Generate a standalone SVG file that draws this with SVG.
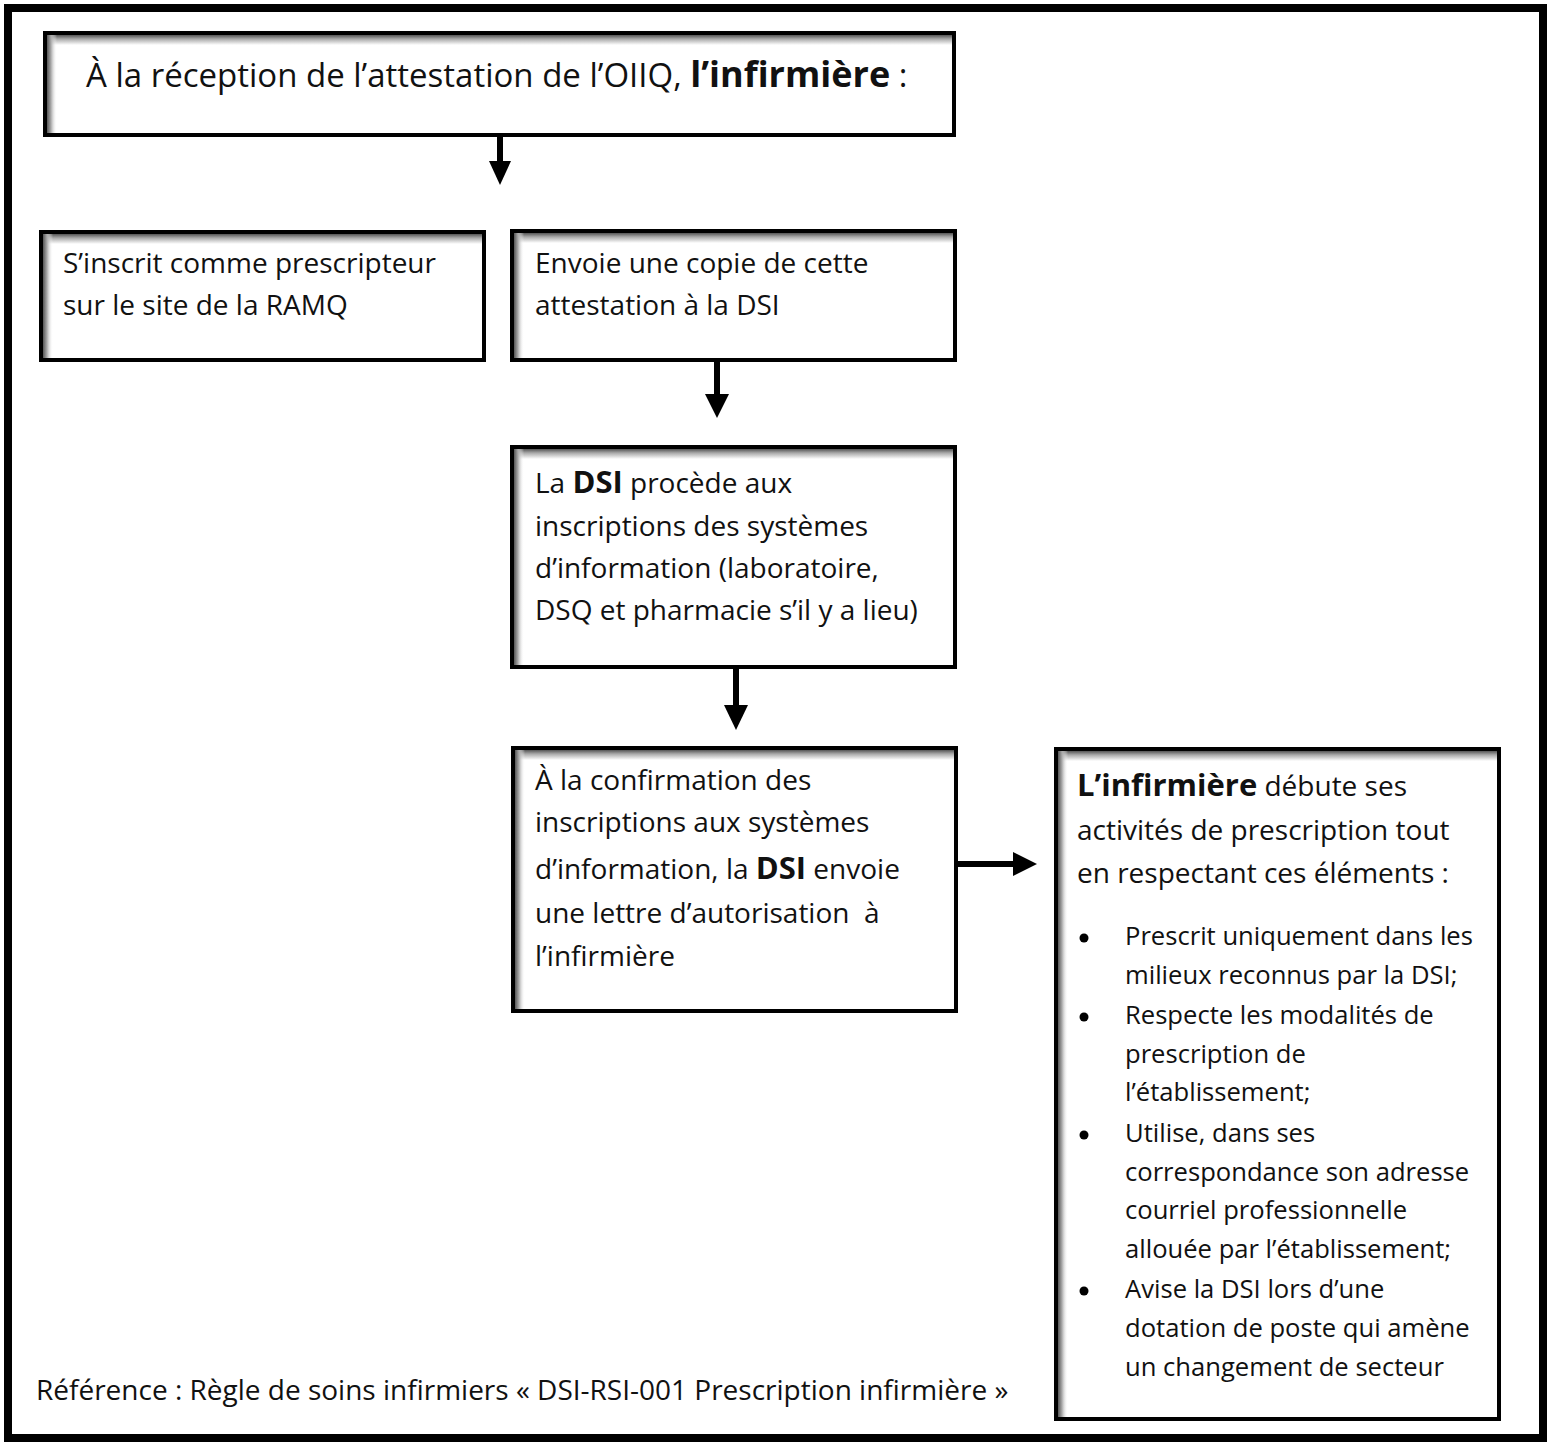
<svg xmlns="http://www.w3.org/2000/svg" width="1551" height="1443" viewBox="0 0 1551 1443">
<style>
.box{fill:#fff;stroke:#000;stroke-width:4}
.sh-t{fill:url(#gt)}
.sh-l{fill:url(#gl)}
.t{font-family:"Open Sans","Liberation Sans",sans-serif;font-size:28px;fill:#111}
.s{font-size:25.6px}
.b{font-weight:bold}
.conn{stroke:#000;stroke-width:6;fill:none}
.head{fill:#000}
</style>
<defs>
<linearGradient id="gt" x1="0" y1="0" x2="0" y2="1"><stop offset="0" stop-color="#555"/><stop offset="0.4" stop-color="#aaa"/><stop offset="1" stop-color="#fff"/></linearGradient>
<linearGradient id="gl" x1="0" y1="0" x2="1" y2="0"><stop offset="0" stop-color="#555"/><stop offset="0.4" stop-color="#aaa"/><stop offset="1" stop-color="#fff" stop-opacity="0"/></linearGradient>
</defs>
<rect x="0" y="0" width="1551" height="1443" fill="#fff"/>
<rect x="8" y="8" width="1535" height="1430" fill="none" stroke="#000" stroke-width="8"/>

<g id="n-top">
<rect class="box" x="45" y="33" width="909" height="102"/>
<rect class="sh-t" x="47" y="35" width="905" height="10"/>
<rect class="sh-l" x="47" y="35" width="10" height="98"/>
<text class="t" x="86" y="87" style="font-size:33px">À la réception de l’attestation de l’OIIQ, <tspan class="b" style="font-size:36px">l’infirmière</tspan> :</text>
</g>

<g id="n-ramq">
<rect class="box" x="41" y="232" width="443" height="128"/>
<rect class="sh-t" x="43" y="234" width="439" height="10"/>
<rect class="sh-l" x="43" y="234" width="10" height="124"/>
<text class="t" x="63" y="273">S’inscrit comme prescripteur</text>
<text class="t" x="63" y="315">sur le site de la RAMQ</text>
</g>

<g id="n-envoie">
<rect class="box" x="512" y="231" width="443" height="129"/>
<rect class="sh-t" x="514" y="233" width="439" height="10"/>
<rect class="sh-l" x="514" y="233" width="10" height="125"/>
<text class="t" x="535" y="273">Envoie une copie de cette</text>
<text class="t" x="535" y="315">attestation à la DSI</text>
</g>

<g id="n-dsi">
<rect class="box" x="512" y="447" width="443" height="220"/>
<rect class="sh-t" x="514" y="449" width="439" height="10"/>
<rect class="sh-l" x="514" y="449" width="10" height="216"/>
<text class="t" x="535" y="493">La <tspan class="b" style="font-size:31px">DSI</tspan> procède aux</text>
<text class="t" x="535" y="536">inscriptions des systèmes</text>
<text class="t" x="535" y="578">d’information (laboratoire,</text>
<text class="t" x="535" y="620">DSQ et pharmacie s’il y a lieu)</text>
</g>

<g id="n-confirm">
<rect class="box" x="513" y="748" width="443" height="263"/>
<rect class="sh-t" x="515" y="750" width="439" height="10"/>
<rect class="sh-l" x="515" y="750" width="10" height="259"/>
<text class="t" x="535" y="790">À la confirmation des</text>
<text class="t" x="535" y="832">inscriptions aux systèmes</text>
<text class="t" x="535" y="879">d’information, la <tspan class="b" style="font-size:31px">DSI</tspan> envoie</text>
<text class="t" x="535" y="923" xml:space="preserve">une lettre d’autorisation  à</text>
<text class="t" x="535" y="966">l’infirmière</text>
</g>

<g id="n-debute">
<rect class="box" x="1056" y="749" width="443" height="670"/>
<rect class="sh-t" x="1058" y="751" width="439" height="10"/>
<rect class="sh-l" x="1058" y="751" width="10" height="666"/>
<text class="t" x="1077" y="796"><tspan class="b" style="font-size:31px">L’infirmière</tspan> débute ses</text>
<text class="t" x="1077" y="840">activités de prescription tout</text>
<text class="t" x="1077" y="883">en respectant ces éléments :</text>
<circle cx="1084" cy="938" r="4.5"/>
<text class="t s" x="1125" y="945">Prescrit uniquement dans les</text>
<text class="t s" x="1125" y="984">milieux reconnus par la DSI;</text>
<circle cx="1084" cy="1017" r="4.5"/>
<text class="t s" x="1125" y="1024">Respecte les modalités de</text>
<text class="t s" x="1125" y="1063">prescription de</text>
<text class="t s" x="1125" y="1101">l’établissement;</text>
<circle cx="1084" cy="1135" r="4.5"/>
<text class="t s" x="1125" y="1142">Utilise, dans ses</text>
<text class="t s" x="1125" y="1181">correspondance son adresse</text>
<text class="t s" x="1125" y="1219">courriel professionnelle</text>
<text class="t s" x="1125" y="1258">allouée par l’établissement;</text>
<circle cx="1084" cy="1291" r="4.5"/>
<text class="t s" x="1125" y="1298">Avise la DSI lors d’une</text>
<text class="t s" x="1125" y="1337">dotation de poste qui amène</text>
<text class="t s" x="1125" y="1376">un changement de secteur</text>
</g>

<g id="reference">
<text class="t" x="36" y="1400">Référence : Règle de soins infirmiers « DSI-RSI-001 Prescription infirmière »</text>
</g>

<g id="connectors">
<line class="conn" x1="500" y1="136" x2="500" y2="163"/>
<polygon class="head" points="489,161 511,161 500,185"/>
<line class="conn" x1="717" y1="361" x2="717" y2="396"/>
<polygon class="head" points="705,394 729,394 717,418"/>
<line class="conn" x1="736" y1="668" x2="736" y2="707"/>
<polygon class="head" points="724,705 748,705 736,730"/>
<line class="conn" x1="957" y1="864" x2="1015" y2="864"/>
<polygon class="head" points="1013,852 1013,876 1037,864"/>
</g>
</svg>
